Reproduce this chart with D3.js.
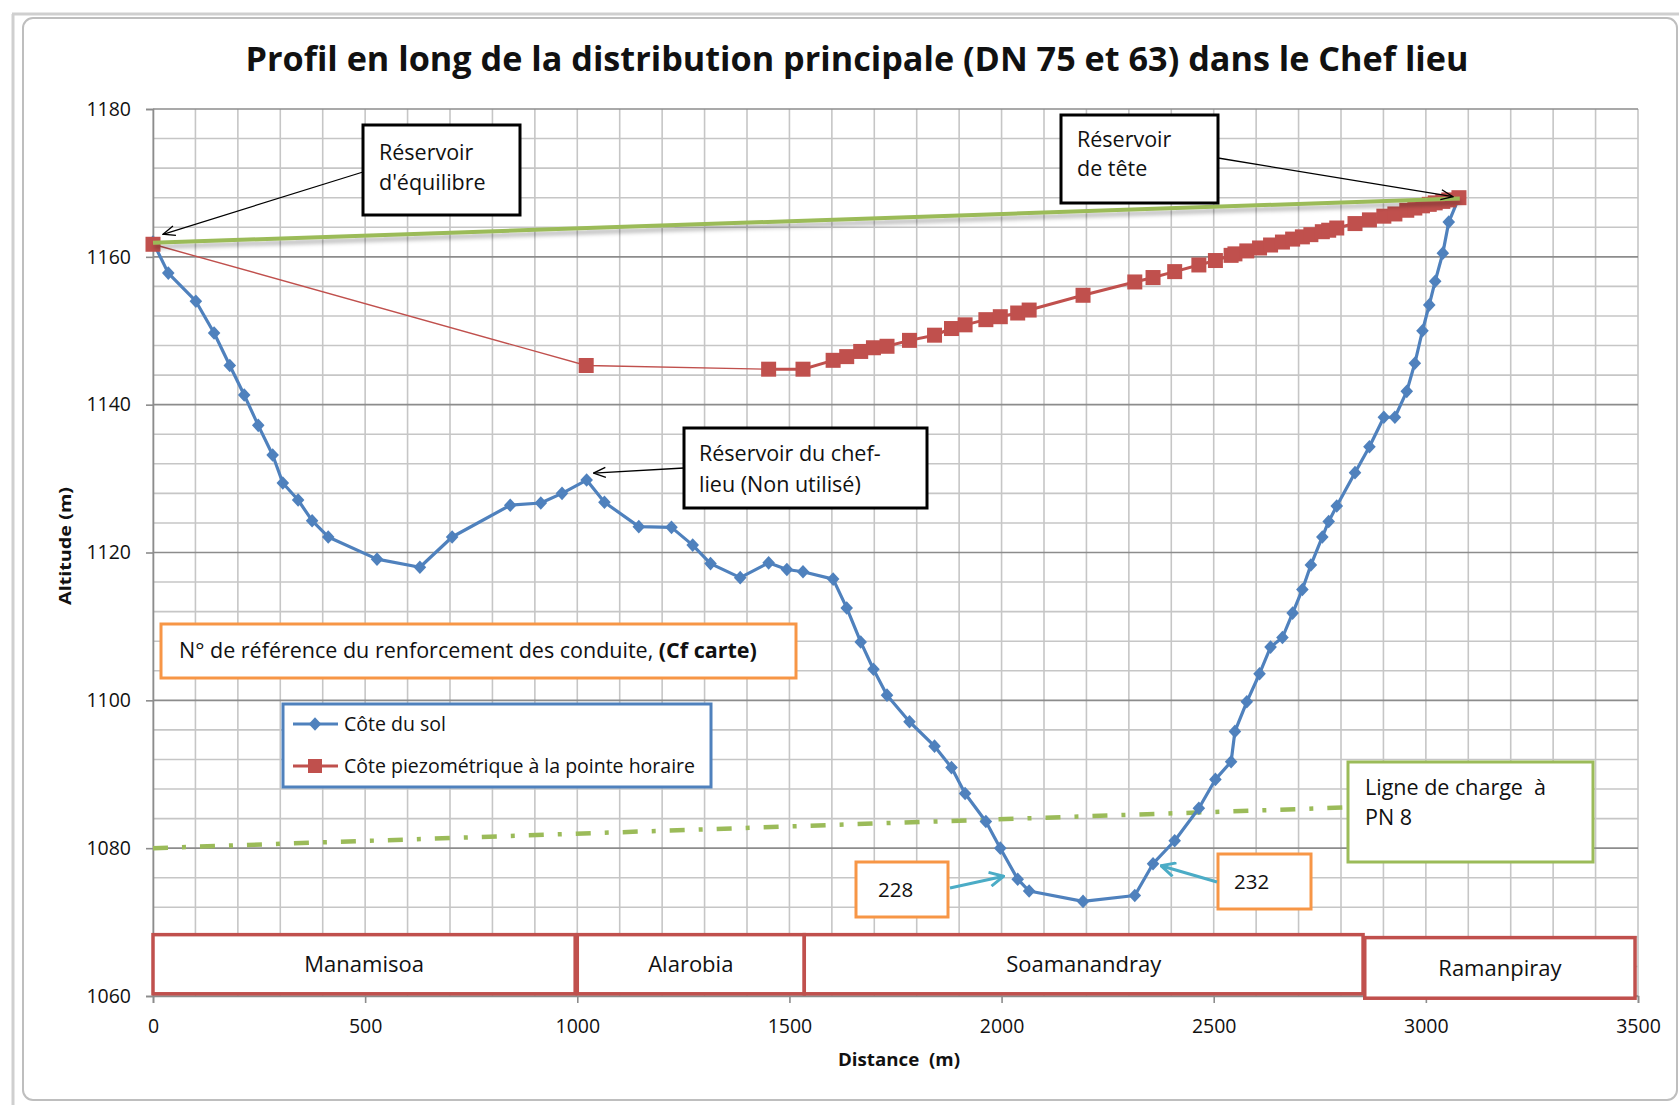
<!DOCTYPE html>
<html><head><meta charset="utf-8">
<script src="https://cdn.jsdelivr.net/npm/d3@7"></script>
<style>
body{margin:0;background:#fff}
svg{display:block}
text{font-family:"Open Sans","Noto Sans",sans-serif;fill:#111}
</style></head>
<body><svg id="c" width="1679" height="1105"></svg>
<script>
// ---------------- DATA ----------------
const solDist = [0,36,101,144,181,215,248,282,306,342,375,413,528,629,705,842,914,964,1022,1064,1145,1222,1272,1314,1384,1451,1494,1532,1603,1635,1668,1698,1730,1783,1842,1882,1914,1963,1997,2038,2065,2192,2314,2357,2408,2465,2504,2541,2550,2578,2608,2634,2662,2686,2709,2729,2756,2771,2790,2833,2867,2901,2927,2955,2974,2992,3008,3022,3040,3054,3078];
const solAlt  = [1162.0,1157.8,1154.0,1149.7,1145.3,1141.3,1137.2,1133.2,1129.4,1127.1,1124.3,1122.1,1119.1,1118.0,1122.1,1126.4,1126.7,1128.0,1129.8,1126.8,1123.5,1123.4,1121.0,1118.5,1116.6,1118.6,1117.7,1117.4,1116.4,1112.5,1107.9,1104.2,1100.7,1097.1,1093.8,1090.9,1087.4,1083.6,1080.0,1075.8,1074.2,1072.8,1073.6,1077.9,1081.0,1085.4,1089.3,1091.7,1095.8,1099.8,1103.6,1107.2,1108.5,1111.8,1115.0,1118.3,1122.1,1124.2,1126.3,1130.8,1134.3,1138.3,1138.3,1141.8,1145.6,1150.0,1153.5,1156.7,1160.5,1164.7,1168.0];

const piezoDist = [0,1021,1451,1532,1603,1635,1668,1698,1730,1783,1842,1882,1914,1963,1997,2038,2065,2192,2314,2357,2408,2465,2504,2541,2550,2578,2608,2634,2662,2686,2709,2729,2756,2771,2790,2833,2867,2901,2927,2955,2974,2992,3008,3022,3040,3054,3078];
const piezoAlt  = [1161.7,1145.3,1144.8,1144.8,1146.0,1146.5,1147.2,1147.7,1147.9,1148.7,1149.4,1150.3,1150.8,1151.5,1151.9,1152.4,1152.8,1154.8,1156.6,1157.2,1158.0,1158.9,1159.5,1160.2,1160.4,1160.8,1161.2,1161.6,1162.0,1162.4,1162.7,1163.0,1163.4,1163.6,1163.9,1164.5,1165.0,1165.5,1165.8,1166.3,1166.6,1166.9,1167.1,1167.3,1167.5,1167.7,1168.0];

const staticDist = [0,3080];
const staticAlt  = [1161.9,1167.9];
const pn8Dist = [0,2806];
const pn8Alt  = [1080.0,1085.5];

const xTicks = [0,500,1000,1500,2000,2500,3000,3500];
const yTicks = [1060,1080,1100,1120,1140,1160,1180];

const zoneNames  = ["Manamisoa","Alarobia","Soamanandray","Ramanpiray"];
const zoneStart  = [0,1000,1535,2856];
const zoneEnd    = [995,1535,2852,3493];
const zoneTop    = [1068.3,1068.3,1068.3,1067.9];
const zoneBottom = [1060.3,1060.3,1060.3,1059.7];

const titleText = "Profil en long de la distribution principale (DN 75 et 63) dans le Chef lieu";
const legendLabels = ["Côte du sol","Côte piezométrique à la pointe horaire"];

// ---------------- CHART ----------------
const svg = d3.select("#c");
const x = d3.scaleLinear().domain([0,3500]).range([153,1638]);
const y = d3.scaleLinear().domain([1060,1180]).range([996,109]);
const BLUE="#4F81BD", RED="#C0504D", GREEN="#9BBB59", ORANGE="#F79646", TEAL="#4BACC6";

const defs = svg.append("defs");
const f = defs.append("filter").attr("id","sh").attr("x","-5%").attr("y","-200%").attr("width","110%").attr("height","500%");
f.append("feDropShadow").attr("dx",1).attr("dy",4).attr("stdDeviation",2.2).attr("flood-color","#000").attr("flood-opacity",0.3);
function arrowMarker(id,color,len,half,sw){
  defs.append("marker").attr("id",id).attr("markerUnits","userSpaceOnUse")
    .attr("viewBox",`-1 -1 ${len+2} ${2*half+2}`).attr("markerWidth",len+2).attr("markerHeight",2*half+2)
    .attr("refX",len).attr("refY",half).attr("orient","auto")
    .append("path").attr("d",`M0,0 L${len},${half} L0,${2*half}`)
    .attr("fill","none").attr("stroke",color).attr("stroke-width",sw).attr("stroke-linejoin","miter");
}
arrowMarker("ab","#000",12,5,1.3);
arrowMarker("at",TEAL,14,7,3);

// outer frame
svg.append("rect").attr("x",0).attr("y",0).attr("width",1679).attr("height",1105).attr("fill","#fff");
svg.append("line").attr("x1",12).attr("x2",1679).attr("y1",14).attr("y2",14).attr("stroke","#CFCFCF").attr("stroke-width",3);
svg.append("line").attr("x1",13).attr("x2",13).attr("y1",14).attr("y2",1105).attr("stroke","#CFCFCF").attr("stroke-width",3);
svg.append("rect").attr("x",23).attr("y",18).attr("width",1654).attr("height",1082).attr("rx",10)
  .attr("fill","#fff").attr("stroke","#BEBEBE").attr("stroke-width",2);

// title
svg.append("text").attr("x",857).attr("y",71).attr("text-anchor","middle")
  .attr("font-size",34).attr("font-weight","bold").attr("textLength",1223).attr("lengthAdjust","spacingAndGlyphs")
  .text(titleText);

// grid
const g = svg.append("g");
g.selectAll(".vg").data(d3.range(0,3501,100)).join("line")
  .attr("x1",d=>x(d)).attr("x2",d=>x(d)).attr("y1",y(1180)).attr("y2",y(1060))
  .attr("stroke","#C6C6C6").attr("stroke-width",1.6);
g.selectAll(".hg").data(d3.range(1060,1181,4).filter(v=>v%20!==0)).join("line")
  .attr("x1",x(0)).attr("x2",x(3500)).attr("y1",d=>y(d)).attr("y2",d=>y(d))
  .attr("stroke","#C6C6C6").attr("stroke-width",1.6);
g.selectAll(".hm").data(yTicks).join("line")
  .attr("x1",x(0)).attr("x2",x(3500)).attr("y1",d=>y(d)).attr("y2",d=>y(d))
  .attr("stroke","#8C8C8C").attr("stroke-width",1.6);

// axes
const ya = svg.append("g").attr("transform",`translate(${x(0)},0)`)
  .call(d3.axisLeft(y).tickValues(yTicks).tickSize(7).tickPadding(15).tickFormat(d3.format("d")));
const xa = svg.append("g").attr("transform",`translate(0,${y(1060)})`)
  .call(d3.axisBottom(x).tickValues(xTicks).tickSize(7).tickPadding(16).tickFormat(d3.format("d")));
[ya,xa].forEach(a=>{
  a.select(".domain").attr("stroke","#8C8C8C").attr("stroke-width",1.6);
  a.selectAll(".tick line").attr("stroke","#8C8C8C").attr("stroke-width",1.6);
  a.selectAll(".tick text").attr("font-family","Open Sans").attr("font-size",19.5).attr("fill","#111");
});

// axis titles
svg.append("text").attr("transform","translate(71,546) rotate(-90)").attr("text-anchor","middle")
  .attr("font-size",16).attr("font-weight","bold").attr("textLength",118).attr("lengthAdjust","spacingAndGlyphs").text("Altitude (m)");
svg.append("text").attr("x",899).attr("y",1066).attr("text-anchor","middle").attr("xml:space","preserve")
  .style("white-space","pre").attr("font-size",17).attr("font-weight","bold").attr("textLength",122).attr("lengthAdjust","spacingAndGlyphs").text("Distance  (m)");

// PN8 line
svg.append("path").datum(d3.zip(pn8Dist,pn8Alt))
  .attr("d",d3.line().x(d=>x(d[0])).y(d=>y(d[1])))
  .attr("fill","none").attr("stroke",GREEN).attr("stroke-width",4.5).attr("stroke-dasharray","15,14,4,14");

// locality boxes
const zones = zoneNames.map((n,i)=>({n,s:zoneStart[i],e:zoneEnd[i],t:zoneTop[i],b:zoneBottom[i]}));
const zg = svg.append("g").selectAll("g").data(zones).join("g");
zg.append("rect").attr("x",d=>x(d.s)).attr("y",d=>y(d.t)).attr("width",d=>x(d.e)-x(d.s)).attr("height",d=>y(d.b)-y(d.t))
  .attr("fill","#fff").attr("stroke",RED).attr("stroke-width",3.5);
zg.append("text").attr("x",d=>(x(d.s)+x(d.e))/2).attr("y",d=>(y(d.t)+y(d.b))/2+8).attr("text-anchor","middle")
  .attr("font-size",22).text(d=>d.n);

// series: Côte du sol
const sol = d3.zip(solDist,solAlt);
const piezo = d3.zip(piezoDist,piezoAlt);
const line = d3.line().x(d=>x(d[0])).y(d=>y(d[1]));
const diamond = "M0,-6.8L6.3,0L0,6.8L-6.3,0Z";
svg.append("path").datum(sol).attr("d",line).attr("fill","none").attr("stroke",BLUE).attr("stroke-width",3.2).attr("stroke-linejoin","round");
svg.append("g").selectAll("path").data(sol).join("path")
  .attr("transform",d=>`translate(${x(d[0])},${y(d[1])})`).attr("d",diamond).attr("fill",BLUE);

// series: piezo
svg.append("path").datum(piezo.slice(0,3)).attr("d",line).attr("fill","none").attr("stroke",RED).attr("stroke-width",1.4);
svg.append("path").datum(piezo.slice(2)).attr("d",line).attr("fill","none").attr("stroke",RED).attr("stroke-width",3);
svg.append("g").selectAll("rect").data(piezo).join("rect")
  .attr("x",d=>x(d[0])-7.5).attr("y",d=>y(d[1])-7.5).attr("width",15).attr("height",15).attr("fill",RED);

// static line (with shadow)
svg.append("path").datum(d3.zip(staticDist,staticAlt)).attr("d",line)
  .attr("fill","none").attr("stroke",GREEN).attr("stroke-width",4).attr("filter","url(#sh)");

// ---------------- ANNOTATIONS ----------------
function box(x0,y0,x1,y1,color,sw){
  svg.append("rect").attr("x",x0).attr("y",y0).attr("width",x1-x0).attr("height",y1-y0)
    .attr("fill","#fff").attr("stroke",color).attr("stroke-width",sw);
}
function lines(tx,baselines,texts,size){
  texts.forEach((t,i)=>svg.append("text").attr("x",tx).attr("y",baselines[i]).attr("font-size",size)
    .attr("xml:space","preserve").style("white-space","pre").text(t));
}
function arrow(x1,y1,x2,y2,mk,color,sw){
  svg.append("line").attr("x1",x1).attr("y1",y1).attr("x2",x2).attr("y2",y2)
    .attr("stroke",color).attr("stroke-width",sw).attr("marker-end",`url(#${mk})`);
}
const AF = 21.5;
// Réservoir d'équilibre
arrow(363,172, x(solDist[0])+10, y(piezoAlt[0])-10, "ab","#000",1.3);
box(363,125,520,215,"#000",3);
lines(379,[160,190],["Réservoir","d'équilibre"],AF);
// Réservoir de tête
arrow(1218,158, x(piezoDist[piezoDist.length-1])-6, y(piezoAlt[piezoAlt.length-1])-1, "ab","#000",1.3);
box(1061,115,1218,203,"#000",3);
lines(1077,[147,176],["Réservoir","de tête"],AF);
// Réservoir du chef-lieu
arrow(684,468, x(1022)+7, y(1129.8)-7, "ab","#000",1.3);
box(684,428,927,508,"#000",3);
lines(699,[461,492],["Réservoir du chef-","lieu (Non utilisé)"],AF);
// N° de référence
box(161,624,796,678,ORANGE,3);
const nt = svg.append("text").attr("x",179).attr("y",658).attr("font-size",AF);
nt.append("tspan").text("N° de référence du renforcement des conduite, ");
nt.append("tspan").attr("font-weight","bold").text("(Cf carte)");
// Legend
box(283,704,711,787,BLUE,3);
[[724,BLUE,legendLabels[0],"d"],[766,RED,legendLabels[1],"s"]].forEach(([ly,c,t,m])=>{
  svg.append("line").attr("x1",293).attr("x2",338).attr("y1",ly).attr("y2",ly).attr("stroke",c).attr("stroke-width",3.2);
  if(m==="d") svg.append("path").attr("transform",`translate(315,${ly})`).attr("d",diamond).attr("fill",c);
  else svg.append("rect").attr("x",308).attr("y",ly-7).attr("width",14).attr("height",14).attr("fill",c);
  svg.append("text").attr("x",344).attr("y",ly+7).attr("font-size",19.5).text(t);
});
// Ligne de charge PN 8
box(1348,762,1593,862,GREEN,3);
lines(1365,[795,825],["Ligne de charge  à","PN 8"],AF);
// 228
box(856,862,948,917,ORANGE,3);
lines(878,[897],["228"],20.5);
arrow(950,888, x(2038)-14, y(1075.8)-3, "at",TEAL,3);
// 232
box(1218,854,1311,909,ORANGE,3);
lines(1234,[889],["232"],20.5);
arrow(1217,882, x(2357)+8, y(1077.9)+2, "at",TEAL,3);
</script>
</body></html>
